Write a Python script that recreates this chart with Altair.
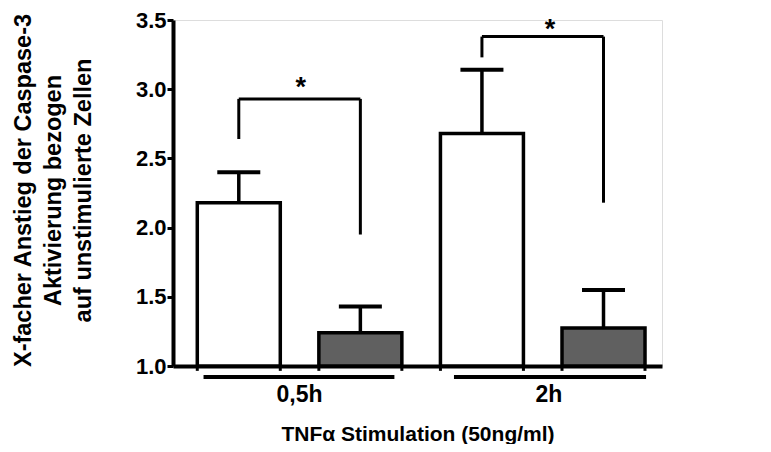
import altair as alt
import pandas as pd

# ---- data ----
bar_pos = [0, 1, 2, 3]
series = ["A", "B", "A", "B"]
means = [2.18, 1.24, 2.68, 1.275]
upper = [2.40, 1.43, 3.14, 1.55]

groups = ["0,5h", "2h"]
group_center = [0.5, 2.55]
group_start = [-0.29, 1.77]
group_end = [1.28, 3.35]

br_left = [0, 2]
br_right = [1, 3]
br_top = [2.93, 3.38]
br_left_bottom = [2.64, 3.23]
br_right_bottom = [1.95, 2.18]
star_x = [0.51, 2.56]
star_y = [2.95, 3.37]

y_ticks = [1.0, 1.5, 2.0, 2.5, 3.0, 3.5]

FONT = "Liberation Sans"

bars = pd.DataFrame({"pos": bar_pos, "series": series, "mean": means, "upper": upper})
grp = pd.DataFrame({"label": groups, "c": group_center, "s": group_start, "e": group_end})
br = pd.DataFrame({"l": br_left, "r": br_right, "top": br_top, "lb": br_left_bottom,
                   "rb": br_right_bottom, "sx": star_x, "sy": star_y})

xs = alt.Scale(domain=[-0.5, 3.44], nice=False, zero=False)
ys = alt.Scale(domain=[1.0, 3.5], nice=False, zero=False)

x_axis = alt.Axis(labels=False, ticks=False, grid=False, domainWidth=4, domainColor="black",
                  title="TNFα Stimulation (50ng/ml)", titleFont=FONT, titleFontSize=21,
                  titleFontWeight="bold", titleColor="black", titleY=74, titleBaseline="alphabetic")
y_axis = alt.Axis(values=y_ticks, format=".1f", grid=False, domainWidth=4, domainColor="black",
                  tickSize=6, tickWidth=3, tickColor="black", labelPadding=1,
                  labelFont=FONT, labelFontSize=22, labelFontWeight="bold", labelColor="black",
                  title=["X-facher Anstieg der Caspase-3", "Aktivierung bezogen",
                         "auf unstimulierte Zellen"],
                  titleFont=FONT, titleFontSize=23.5, titleFontWeight="bold", titleColor="black",
                  titleAngle=270, titleX=-150, titleY=170, titleBaseline="middle",
                  titleAlign="center", titleLineHeight=30)

base = alt.Chart(bars)

bar = base.mark_bar(size=83, stroke="black", strokeWidth=3.5).encode(
    x=alt.X("pos:Q", scale=xs, axis=x_axis),
    y=alt.Y("mean:Q", scale=ys, axis=y_axis),
    y2=alt.datum(1.0),
    fill=alt.Fill("series:N", scale=alt.Scale(domain=["A", "B"], range=["white", "#606060"]),
                  legend=None),
)
edge_l = base.mark_rule(strokeWidth=3, color="black", xOffset=-41.5).encode(
    x="pos:Q", y=alt.datum(1.0), y2=alt.datum(0.965))
edge_r = base.mark_rule(strokeWidth=3, color="black", xOffset=41.5).encode(
    x="pos:Q", y=alt.datum(1.0), y2=alt.datum(0.965))

stem = base.mark_rule(strokeWidth=3.5, color="black").encode(
    x="pos:Q", y="mean:Q", y2="upper:Q")
cap = base.mark_tick(orient="horizontal", size=43, thickness=4, color="black", opacity=1).encode(
    x="pos:Q", y="upper:Q")

bc = alt.Chart(br)
b_top = bc.mark_rule(strokeWidth=3, color="black").encode(x="l:Q", x2="r:Q", y="top:Q")
b_left = bc.mark_rule(strokeWidth=3, color="black").encode(x="l:Q", y="lb:Q", y2="top:Q")
b_right = bc.mark_rule(strokeWidth=3, color="black").encode(x="r:Q", y="rb:Q", y2="top:Q")
stars = bc.mark_text(text="*", font=FONT, fontSize=27, fontWeight="bold", color="black",
                     baseline="alphabetic").encode(x="sx:Q", y="sy:Q")

gc = alt.Chart(grp)
underline = gc.mark_rule(strokeWidth=4, color="black").encode(
    x="s:Q", x2="e:Q", y=alt.datum(0.92))
glabel = gc.mark_text(font=FONT, fontSize=23, fontWeight="bold", color="black",
                      baseline="alphabetic").encode(x="c:Q", y=alt.datum(0.74), text="label:N")

chart = alt.layer(bar, edge_l, edge_r, stem, cap, b_top, b_left, b_right, stars,
                  underline, glabel).properties(
    width=489, height=346,
    autosize=alt.AutoSizeParams(type="none"),
    padding={"left": 165, "top": 12, "right": 99, "bottom": 78},
).configure_view(stroke=None).configure(background="white")

chart.save("out.html", embed_options={"renderer": "svg", "actions": False})
